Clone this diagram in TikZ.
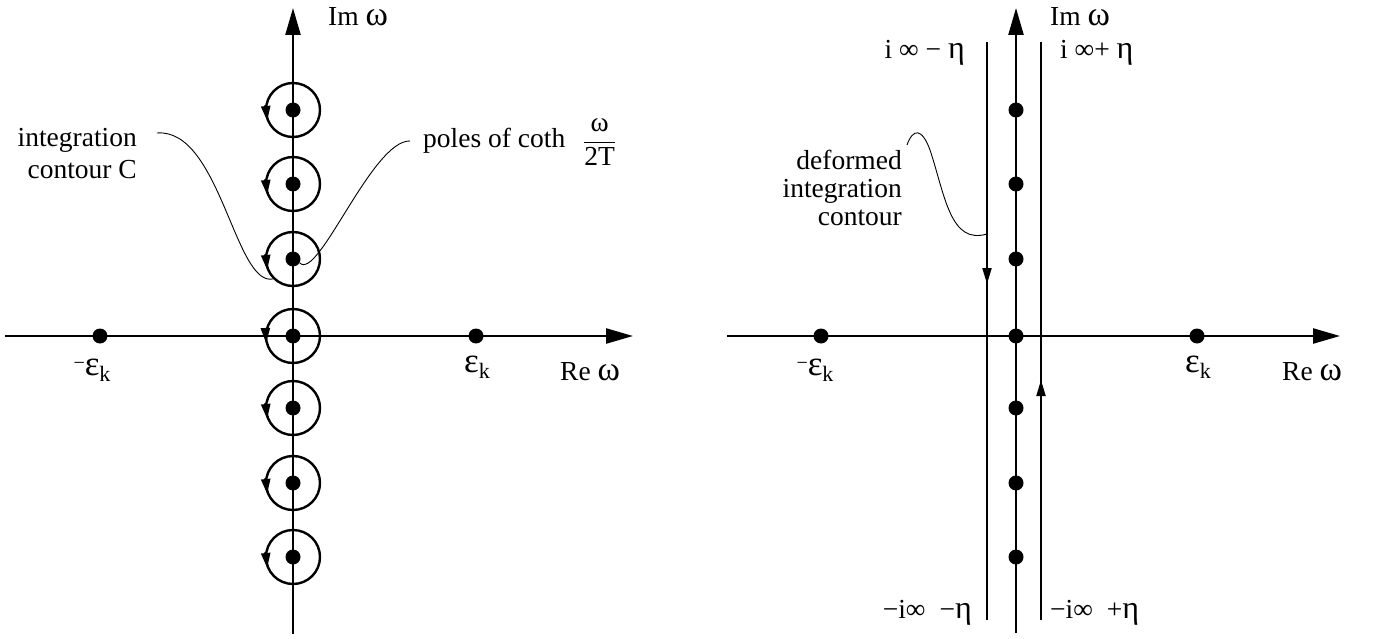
\documentclass[tikz,border=0pt]{standalone}
\usepackage{fontspec}
\setmainfont{Liberation Serif}
\usetikzlibrary{arrows.meta,calc}
\newcommand\Gom{{\fontsize{34}{34}\selectfont ω}}
\newcommand\Geps{{\fontsize{35}{35}\selectfont ε}}
\newcommand\Geta{{\fontsize{32}{32}\selectfont η}}
\newcommand\Gsub[1]{\raisebox{-6pt}{\fontsize{22}{22}\selectfont #1}}
\newcommand\Gneg{\raisebox{6pt}{\fontsize{20}{20}\selectfont −}}
\begin{document}
\begin{tikzpicture}[x=1pt,y=-1pt,
  axis/.style={line width=2.4pt,-{Triangle[length=27pt,width=15pt]}},
  pole/.style={circle,fill=black,inner sep=0pt,minimum size=15pt},
  loop/.style={circle,draw=black,line width=2.4pt,minimum size=54pt,inner sep=0pt},
  loopdir/.style={line width=2.4pt,-{Triangle[length=15pt,width=9pt]}},
  contour/.style={line width=2pt},
  contourdir/.style={line width=2pt,-{Triangle[length=16pt,width=9pt]}},
  leader/.style={line width=0.9pt},
  lbl/.style={inner sep=0pt,font=\fontsize{27.5}{30}\selectfont},
]
\useasboundingbox (0,0) rectangle (1387,639);

% ---------------- left panel ----------------
\coordinate (LW) at (5,336);
\coordinate (LE) at (633,336);
\coordinate (LS) at (293,634);
\coordinate (LN) at (293,8);
\draw[axis] (LW) -- (LE);
\draw[axis] (LS) -- (LN);
\foreach \i/\y in {1/110,2/184,3/259,5/408,6/483,7/557} {
  \node[loop] (cL\i) at (293,\y) {};
  \node[pole] (pL\i) at (293,\y) {};
  \draw[loopdir] ($(cL\i.center)+(-27.4,-5)$) -- ($(cL\i.center)+(-25.8,11)$);
}
\node[loop] (cL4) at (293,336) {};
\node[pole] (pL4) at (293,336) {};
\draw[loopdir] ($(cL4.center)+(-27.6,-8)$) -- ($(cL4.center)+(-27,7)$);

\node[pole] (mL) at (100,336) {};
\node[pole] (eL) at (476,336) {};
\node[lbl,anchor=base] (mLt) at (92,375) {\Gneg\Geps\Gsub{k}};
\node[lbl,anchor=base] (eLt) at (477,372) {\Geps\Gsub{k}};
\node[lbl,anchor=base west] (reL) at (560,380) {Re \Gom};
\node[lbl,anchor=base west] (imL) at (328,26) {Im \Gom};

\node[lbl,anchor=north east,align=right,font=\fontsize{27.5}{32}\selectfont] (intC) at (137,128) {integration\\contour C};
\node[lbl,anchor=base west] (poles) at (423,148) {poles of coth\hspace{18pt}$\displaystyle\frac{\mbox{ω}}{\mbox{2T}}$};

\coordinate (intCend) at (157,133);
\draw[leader] (intCend) .. controls (220,128) and (235,287) .. (cL3.225);
\coordinate (polesend) at (410,141);
\draw[leader] (pL3.-30) .. controls (318,282) and (372,140) .. (polesend);

% ---------------- right panel ----------------
\coordinate (RW) at (727,336);
\coordinate (RE) at (1340,336);
\coordinate (RS) at (1016,633);
\coordinate (RN) at (1016,8);
\draw[axis] (RW) -- (RE);
\draw[axis] (RS) -- (RN);

\coordinate (CLt) at (987,42);
\coordinate (CLb) at (987,620);
\coordinate (CRt) at (1041,42);
\coordinate (CRb) at (1041,620);
\draw[contour] (CLt) -- (CLb);
\draw[contour] (CRt) -- (CRb);
\draw[contourdir] ($(CLt)+(0,224)$) -- ($(CLt)+(0,242)$);
\draw[contourdir] ($(CRb)+(0,-222)$) -- ($(CRb)+(0,-240)$);

\foreach \i/\y in {1/110,2/184,3/259,4/336,5/408,6/483,7/557} {
  \node[pole] (pR\i) at (1016,\y) {};
}
\node[pole] (mR) at (821,336) {};
\node[pole] (eR) at (1197,336) {};
\node[lbl,anchor=base] (mRt) at (815,375) {\Gneg\Geps\Gsub{k}};
\node[lbl,anchor=base] (eRt) at (1198,372) {\Geps\Gsub{k}};
\node[lbl,anchor=base west] (reR) at (1282,380) {Re \Gom};
\node[lbl,anchor=base west] (imR) at (1050,26) {Im \Gom};

\node[lbl,anchor=base east] (tl) at (965,59) {i ∞ − \Geta};
\node[lbl,anchor=base west] (tr) at (1060,59) {i ∞+ \Geta};
\node[lbl,anchor=base east] (bl) at (972,618) {−i∞\hspace{14pt}−\Geta};
\node[lbl,anchor=base west] (br) at (1050,618) {−i∞\hspace{14pt}+\Geta};

\node[lbl,anchor=north east,align=right,font=\fontsize{27.5}{28}\selectfont] (defC) at (902,150) {deformed\\integration\\contour};
\coordinate (defend) at (907,145);
\coordinate (defon) at (987,234);
\draw[leader] (defend) .. controls (913,128) and (922,128) .. (930,150) .. controls (945,195) and (950,245) .. (defon);
\end{tikzpicture}
\end{document}
